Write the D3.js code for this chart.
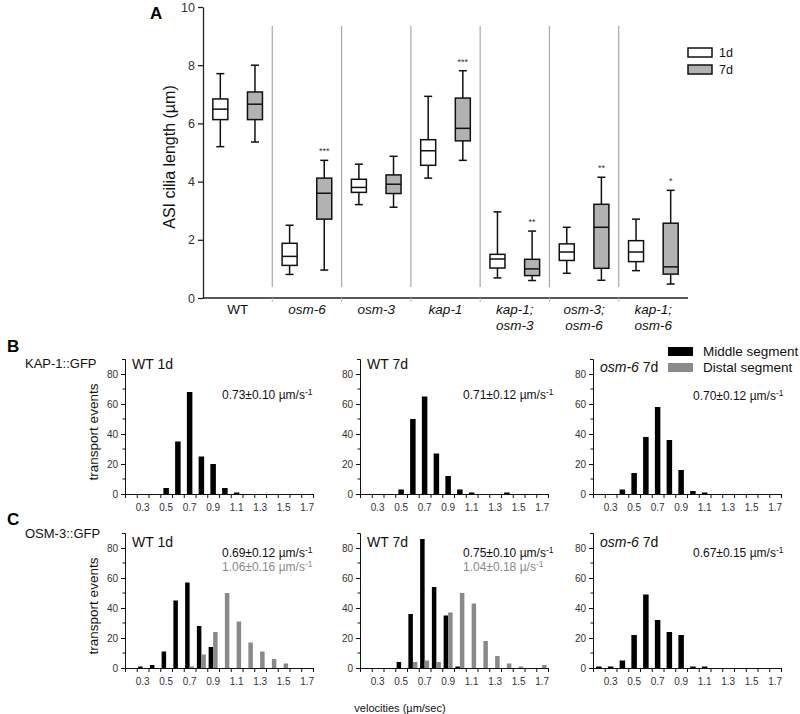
<!DOCTYPE html>
<html><head><meta charset="utf-8">
<script src="https://cdn.jsdelivr.net/npm/d3@7"></script>
<style>body{margin:0;background:#fff} text{font-family:"Liberation Sans",Arial,sans-serif}</style>
</head><body>
<svg id="c" width="800" height="714"></svg>
<script>
// ---------- Panel A data ----------
const groups = ["WT","osm-6","osm-3","kap-1","kap-1;osm-3","osm-3;osm-6","kap-1;osm-6"];
const groupLines = [["WT"],["osm-6"],["osm-3"],["kap-1"],["kap-1;","osm-3"],["osm-3;","osm-6"],["kap-1;","osm-6"]];
// [whisker low, q1, median, q3, whisker high]
const box1d = [[5.2,6.13,6.49,6.84,7.71],[0.81,1.12,1.43,1.88,2.50],[3.21,3.63,3.80,4.08,4.60],[4.12,4.56,5.06,5.44,6.93],[0.69,1.03,1.34,1.50,2.96],[0.85,1.29,1.58,1.86,2.43],[0.94,1.25,1.58,1.97,2.71]];
const box7d = [[5.36,6.13,6.66,7.08,8.0],[0.96,2.71,3.60,4.12,4.73],[3.12,3.59,3.91,4.23,4.87],[4.73,5.40,5.83,6.87,7.81],[0.60,0.77,1.00,1.33,2.30],[0.61,1.02,2.43,3.22,4.15],[0.48,0.82,1.07,2.57,3.70]];
const sig7d = ["","***","","***","**","**","*"];
const yTicksA = [0,2,4,6,8,10];
const days = ["1d","7d"];

// ---------- Panels B/C data ----------
const velBins = [0.2,0.3,0.4,0.5,0.6,0.7,0.8,0.9,1.0,1.1,1.2,1.3,1.4,1.5,1.6,1.7];
const velLabels = [0.3,0.5,0.7,0.9,1.1,1.3,1.5,1.7];
const velEdges = [0.15,0.25,0.35,0.45,0.55,0.65,0.75,0.85,0.95,1.05,1.15,1.25,1.35,1.45,1.55,1.65,1.75];
const countTicks = [0,20,40,60,80];
const countMinor = [10,30,50,70];
const kapWT1d   = [0,0,0,4,35,68,25,20,4,1,0,0,0,0,0,0];
const kapWT7d   = [0,0,0,3,50,65,27,12,3,1,0,0,1,0,0,0];
const kapOsm6   = [0,0,3,14,38,58,36,16,2,1,0,0,0,0,0,0];
const osmWT1dMid  = [0,1,2,11,45,57,28,14,0,0,0,0,0,0,0,0];
const osmWT1dDist = [0,0,0,0,0,1,9,24,50,31,17,11,6,3,0,0];
const osmWT7dMid  = [0,0,0,4,36,86,54,35,1,0,0,0,0,0,0,0];
const osmWT7dDist = [0,0,0,0,4,5,4,37,50,43,18,8,3,1,0,2];
const osmOsm6Mid  = [1,1,5,22,49,32,24,22,1,1,0,0,0,0,0,0];

const svg = d3.select("#c");
const GRAY_FILL = "#b2b2b2";
const DIST = "#8a8a8a";

// ================= Panel A =================
const xA = d3.scaleBand().domain(groups).range([203,688]);
const yA = d3.scaleLinear().domain([0,10]).range([298,7]);
const gA = svg.append("g");

gA.append("text").attr("x",150).attr("y",19).attr("font-size",17).attr("font-weight","bold").text("A");

const yAx = gA.append("g").attr("transform","translate(203,0)")
  .call(d3.axisLeft(yA).tickValues(yTicksA).tickSize(5).tickSizeOuter(0).tickPadding(3));
yAx.selectAll("text").attr("font-size",12.5).attr("fill","#333").style("font-family","Liberation Sans, Arial");
yAx.selectAll("path,line").attr("stroke","#222").attr("stroke-width",1.3);

// x axis line & boundary ticks
gA.append("line").attr("x1",203).attr("x2",688).attr("y1",yA(0)).attr("y2",yA(0)).attr("stroke","#222").attr("stroke-width",1.3);
const bounds = groups.slice(1).map(g=>xA(g));
gA.selectAll(".bt").data(bounds).enter().append("line")
  .attr("x1",d=>d).attr("x2",d=>d).attr("y1",yA(0)).attr("y2",yA(0)+4).attr("stroke","#bbb");
gA.selectAll(".sep").data(bounds).enter().append("line")
  .attr("x1",d=>d).attr("x2",d=>d).attr("y1",yA(9.35)).attr("y2",yA(0.38))
  .attr("stroke","#a8a8a8").attr("stroke-width",1.2);

// y label
gA.append("text").attr("transform","translate(175,157) rotate(-90)").attr("text-anchor","middle")
  .attr("font-size",16).attr("fill","#111").text("ASI cilia length (µm)");

// category labels
groups.forEach((g,i)=>{
  const cx = xA(g)+xA.bandwidth()/2;
  groupLines[i].forEach((ln,j)=>{
    gA.append("text").attr("x",cx).attr("y",314+j*16).attr("text-anchor","middle")
      .attr("font-size",13.5).attr("font-style", g==="WT"?"normal":"italic").attr("fill","#111").text(ln);
  });
});

// boxes
function drawBox(cx, s, fill){
  const hw = 7.5, cw = 4;
  const g = gA.append("g").attr("stroke","#111").attr("stroke-width",1.5);
  g.append("line").attr("x1",cx).attr("x2",cx).attr("y1",yA(s[0])).attr("y2",yA(s[1]));
  g.append("line").attr("x1",cx).attr("x2",cx).attr("y1",yA(s[3])).attr("y2",yA(s[4]));
  g.append("line").attr("x1",cx-cw).attr("x2",cx+cw).attr("y1",yA(s[0])).attr("y2",yA(s[0]));
  g.append("line").attr("x1",cx-cw).attr("x2",cx+cw).attr("y1",yA(s[4])).attr("y2",yA(s[4]));
  g.append("rect").attr("x",cx-hw).attr("width",hw*2).attr("y",yA(s[3])).attr("height",yA(s[1])-yA(s[3])).attr("fill",fill);
  g.append("line").attr("x1",cx-hw).attr("x2",cx+hw).attr("y1",yA(s[2])).attr("y2",yA(s[2]));
}
groups.forEach((g,i)=>{
  const c1 = xA(g)+xA.bandwidth()*0.25, c7 = xA(g)+xA.bandwidth()*0.75;
  drawBox(c1, box1d[i], "#fff");
  drawBox(c7, box7d[i], GRAY_FILL);
  if (sig7d[i]) gA.append("text").attr("x",c7).attr("y",yA(box7d[i][4])-6).attr("text-anchor","middle")
    .attr("font-size",9).attr("fill","#333").text(sig7d[i]);
});

// legend A
days.forEach((d,i)=>{
  gA.append("rect").attr("x",688).attr("y",48+i*17).attr("width",24).attr("height",9)
    .attr("fill", i?GRAY_FILL:"#fff").attr("stroke","#111").attr("stroke-width",1.5);
  gA.append("text").attr("x",719).attr("y",57+i*17).attr("font-size",12.5).attr("fill","#111").text(d);
});

// ================= Panels B & C =================
svg.append("text").attr("x",7).attr("y",352).attr("font-size",17).attr("font-weight","bold").text("B");
svg.append("text").attr("x",25).attr("y",368).attr("font-size",13).attr("fill","#111").text("KAP-1::GFP");
svg.append("text").attr("x",7).attr("y",525).attr("font-size",17).attr("font-weight","bold").text("C");
svg.append("text").attr("x",25).attr("y",538).attr("font-size",13).attr("fill","#111").text("OSM-3::GFP");
svg.append("text").attr("x",400).attr("y",712).attr("text-anchor","middle").attr("font-size",11).attr("fill","#111").text("velocities (µm/sec)");

// legend B/C
svg.append("rect").attr("x",668).attr("y",347).attr("width",25).attr("height",9).attr("fill","#000");
svg.append("text").attr("x",703).attr("y",356).attr("font-size",13.5).attr("fill","#111").text("Middle segment");
svg.append("rect").attr("x",668).attr("y",363).attr("width",25).attr("height",9).attr("fill",DIST);
svg.append("text").attr("x",703).attr("y",372).attr("font-size",13.5).attr("fill","#111").text("Distal segment");

function statText(x, y, s, color, unit){
  const t = svg.append("text").attr("x",x).attr("y",y).attr("font-size",12).attr("fill",color);
  t.append("tspan").text(s+" "+unit);
  t.append("tspan").attr("dy",-4).attr("font-size",8.5).text("-1");
}

function drawHist(x0, y0, mid, dist, titleItal, titleRest, titleY, showYLabel){
  const x = d3.scaleLinear().domain([0.15,1.75]).range([x0, x0+188]);
  const y = d3.scaleLinear().domain([0,90]).range([y0, y0-135]);
  const g = svg.append("g");
  // bars
  velBins.forEach((b,i)=>{
    if (dist){
      if (mid[i]>0) g.append("rect").attr("x",x(b)-4.5).attr("width",4.5).attr("y",y(mid[i])).attr("height",y(0)-y(mid[i])).attr("fill","#000");
      if (dist[i]>0) g.append("rect").attr("x",x(b)).attr("width",4.5).attr("y",y(dist[i])).attr("height",y(0)-y(dist[i])).attr("fill",DIST);
    } else if (mid[i]>0) {
      g.append("rect").attr("x",x(b)-2.75).attr("width",5.5).attr("y",y(mid[i])).attr("height",y(0)-y(mid[i])).attr("fill","#000");
    }
  });
  // y axis
  const ya = g.append("g").attr("transform",`translate(${x0},0)`)
    .call(d3.axisLeft(y).tickValues(countTicks).tickSize(4).tickSizeOuter(3).tickPadding(3));
  ya.selectAll("text").attr("font-size",10).attr("fill","#333").style("font-family","Liberation Sans, Arial");
  ya.selectAll("path,line").attr("stroke","#111");
  g.selectAll(".mn").data(countMinor).enter().append("line")
    .attr("x1",x0-2.5).attr("x2",x0).attr("y1",d=>y(d)).attr("y2",d=>y(d)).attr("stroke","#111");
  // x axis
  const xa = g.append("g").attr("transform",`translate(0,${y0})`)
    .call(d3.axisBottom(x).tickValues(velEdges).tickFormat("").tickSize(4).tickSizeOuter(0));
  xa.selectAll("path,line").attr("stroke","#111");
  g.selectAll(".xl").data(velLabels).enter().append("text")
    .attr("x",d=>x(d)).attr("y",y0+17).attr("text-anchor","middle").attr("font-size",10).attr("fill","#333")
    .text(d=>d.toFixed(1));
  // title
  const t = g.append("text").attr("x",x0+7).attr("y",titleY).attr("font-size",14).attr("fill","#111");
  if (titleItal) t.append("tspan").attr("font-style","italic").text(titleItal);
  t.append("tspan").text(titleRest);
  if (showYLabel){
    g.append("text").attr("transform",`translate(98,${y0-62}) rotate(-90)`).attr("text-anchor","middle")
      .attr("font-size",13.5).attr("fill","#111").text("transport events");
  }
}

const chartX = [125,360,593];
const statX = [222,463,693];
// Row B
drawHist(chartX[0],494,kapWT1d,null,"","WT 1d",369,true);
drawHist(chartX[1],494,kapWT7d,null,"","WT 7d",369,false);
drawHist(chartX[2],494,kapOsm6,null,"osm-6"," 7d",372,false);
statText(statX[0],399,"0.73±0.10","#111","µm/s");
statText(statX[1],399,"0.71±0.12","#111","µm/s");
statText(statX[2],400,"0.70±0.12","#111","µm/s");
// Row C
drawHist(chartX[0],668,osmWT1dMid,osmWT1dDist,"","WT 1d",547,true);
drawHist(chartX[1],668,osmWT7dMid,osmWT7dDist,"","WT 7d",547,false);
drawHist(chartX[2],668,osmOsm6Mid,null,"osm-6"," 7d",547,false);
statText(statX[0],557,"0.69±0.12","#111","µm/s");
statText(statX[0],571,"1.06±0.16","#8a8a8a","µm/s");
statText(statX[1],557,"0.75±0.10","#111","µm/s");
statText(statX[1],571,"1.04±0.18","#8a8a8a","µ/s");
statText(statX[2],557,"0.67±0.15","#111","µm/s");
</script>
</body></html>
